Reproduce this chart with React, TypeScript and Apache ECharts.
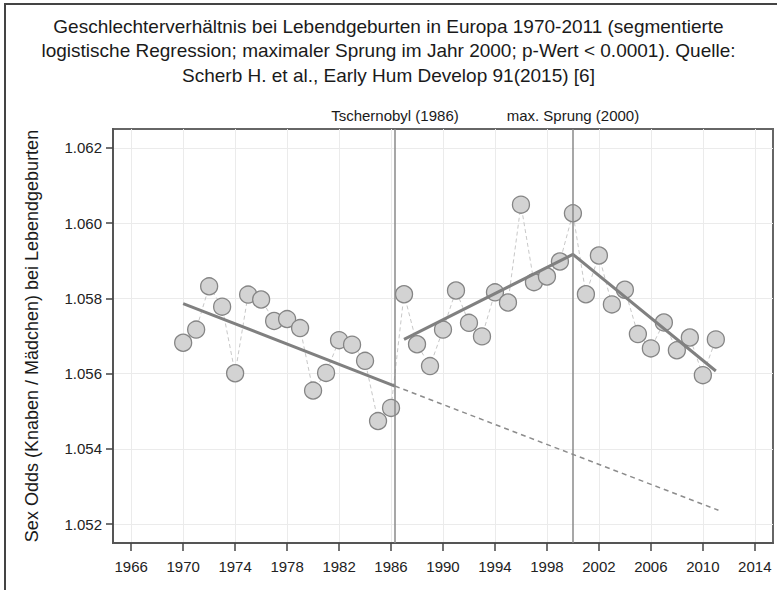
import React, { useEffect, useRef } from "react";
import * as echarts from "echarts";

const titleLines = [
  "Geschlechterverhältnis bei Lebendgeburten in Europa 1970-2011 (segmentierte",
  "logistische Regression; maximaler Sprung im Jahr 2000; p-Wert < 0.0001). Quelle:",
  "Scherb H. et al., Early Hum Develop 91(2015) [6]",
];
const yAxisTitle = "Sex Odds (Knaben / Mädchen) bei Lebendgeburten";

const years = [
  1970, 1971, 1972, 1973, 1974, 1975, 1976, 1977, 1978, 1979, 1980, 1981, 1982, 1983,
  1984, 1985, 1986, 1987, 1988, 1989, 1990, 1991, 1992, 1993, 1994, 1995, 1996, 1997,
  1998, 1999, 2000, 2001, 2002, 2003, 2004, 2005, 2006, 2007, 2008, 2009, 2010, 2011,
];
const sexOdds = [
  1.05682, 1.05717, 1.05832, 1.05778, 1.05601, 1.0581, 1.05797, 1.0574, 1.05745, 1.05721,
  1.05555, 1.05602, 1.05689, 1.05677, 1.05634, 1.05474, 1.05509, 1.05811, 1.05678, 1.0562,
  1.05717, 1.05821, 1.05735, 1.05699, 1.05816, 1.05789, 1.06049, 1.05843, 1.05858, 1.05898,
  1.06026, 1.05811, 1.05914, 1.05784, 1.05823, 1.05705, 1.05667, 1.05736, 1.05662, 1.05696,
  1.05596, 1.05691,
];

const trendBeforeX = [1970, 1986.3];
const trendBeforeY = [1.05786, 1.05567];
const trendExtX = [1986.3, 2011.2];
const trendExtY = [1.05567, 1.05237];
const trendAfterX = [1987, 2000, 2011];
const trendAfterY = [1.05691, 1.05917, 1.05607];

const eventYears = [1986.3, 2000];
const eventLabels = ["Tschernobyl (1986)", "max. Sprung (2000)"];

const xTicks = [1966, 1970, 1974, 1978, 1982, 1986, 1990, 1994, 1998, 2002, 2006, 2010, 2014];
const yTicks = [1.052, 1.054, 1.056, 1.058, 1.06, 1.062];

const FONT = "'Liberation Sans', Arial, sans-serif";

const pairs = (xs: number[], ys: number[]) => xs.map((x, i) => [x, ys[i]]);

export default function App() {
  const ref = useRef<HTMLDivElement>(null);
  useEffect(() => {
    if (!ref.current) return;
    const chart = echarts.init(ref.current, null, { renderer: "svg" });
    chart.setOption({
      animation: false,
      backgroundColor: "#ffffff",
      textStyle: { fontFamily: FONT },
      title: {
        text: titleLines.join("\n"),
        left: "center",
        top: 14,
        padding: 0,
        textStyle: {
          fontFamily: FONT,
          fontSize: 19,
          fontWeight: "normal",
          color: "#1a1a1a",
          lineHeight: 24.5,
        },
      },
      graphic: [
        {
          type: "rect",
          shape: { x: 5, y: 4, width: 800, height: 700 },
          style: { fill: "none", stroke: "#444", lineWidth: 2 },
          silent: true,
        },
      ],
      grid: {
        left: 113,
        right: 4,
        top: 129,
        bottom: 47,
        show: true,
        borderColor: "#666",
        borderWidth: 2,
        backgroundColor: "transparent",
      },
      xAxis: {
        type: "value",
        min: 1964.6,
        max: 2015.4,
        axisLine: { show: true, onZero: false, lineStyle: { color: "#555", width: 2 } },
        axisTick: {
          show: true,
          customValues: xTicks,
          length: 8,
          lineStyle: { color: "#444", width: 1.5 },
        },
        axisLabel: {
          customValues: xTicks,
          formatter: (v: number) => String(Math.round(v)),
          fontFamily: FONT,
          fontSize: 15,
          color: "#222",
          margin: 16,
        },
        splitLine: { show: true, lineStyle: { color: "#ebebeb", width: 1 } },
      },
      yAxis: {
        type: "value",
        min: 1.0515,
        max: 1.0625,
        name: yAxisTitle,
        nameLocation: "middle",
        nameGap: 72,
        nameTextStyle: { fontFamily: FONT, fontSize: 18, color: "#1a1a1a" },
        axisLine: { show: true, onZero: false, lineStyle: { color: "#555", width: 2 } },
        axisTick: {
          show: true,
          customValues: yTicks,
          length: 7,
          lineStyle: { color: "#444", width: 1.5 },
        },
        axisLabel: {
          customValues: yTicks,
          formatter: (v: number) => v.toFixed(3),
          fontFamily: FONT,
          fontSize: 15,
          color: "#222",
          margin: 11,
        },
        splitLine: { show: true, lineStyle: { color: "#ebebeb", width: 1 } },
      },
      series: [
        {
          type: "line",
          data: [],
          z: 1,
          markLine: {
            silent: true,
            symbol: "none",
            lineStyle: { color: "#8a8a8a", width: 1.5, type: "solid" },
            label: {
              show: true,
              position: "end",
              distance: 6,
              fontFamily: FONT,
              fontSize: 15,
              color: "#1a1a1a",
            },
            data: eventYears.map((x, i) => ({
              xAxis: x,
              label: { formatter: eventLabels[i] },
            })),
          },
        },
        {
          type: "line",
          data: pairs(trendExtX, trendExtY),
          symbol: "none",
          z: 2,
          lineStyle: { color: "#8c8c8c", width: 1.5, type: [5, 4] },
        },
        {
          type: "line",
          data: pairs(years, sexOdds),
          symbol: "circle",
          symbolSize: 17,
          showAllSymbol: true,
          z: 3,
          lineStyle: { color: "#c8c8c8", width: 1, type: [4, 3] },
          itemStyle: { color: "#d3d3d3", borderColor: "#858585", borderWidth: 1.3 },
        },
        {
          type: "line",
          data: pairs(trendBeforeX, trendBeforeY),
          symbol: "none",
          z: 4,
          lineStyle: { color: "#808080", width: 3 },
        },
        {
          type: "line",
          data: pairs(trendAfterX, trendAfterY),
          symbol: "none",
          z: 4,
          lineStyle: { color: "#808080", width: 3 },
        },
      ],
    });
    return () => chart.dispose();
  }, []);
  return (
    <div
      ref={ref}
      style={{ position: "fixed", left: 0, top: 0, width: 777, height: 590 }}
    />
  );
}
